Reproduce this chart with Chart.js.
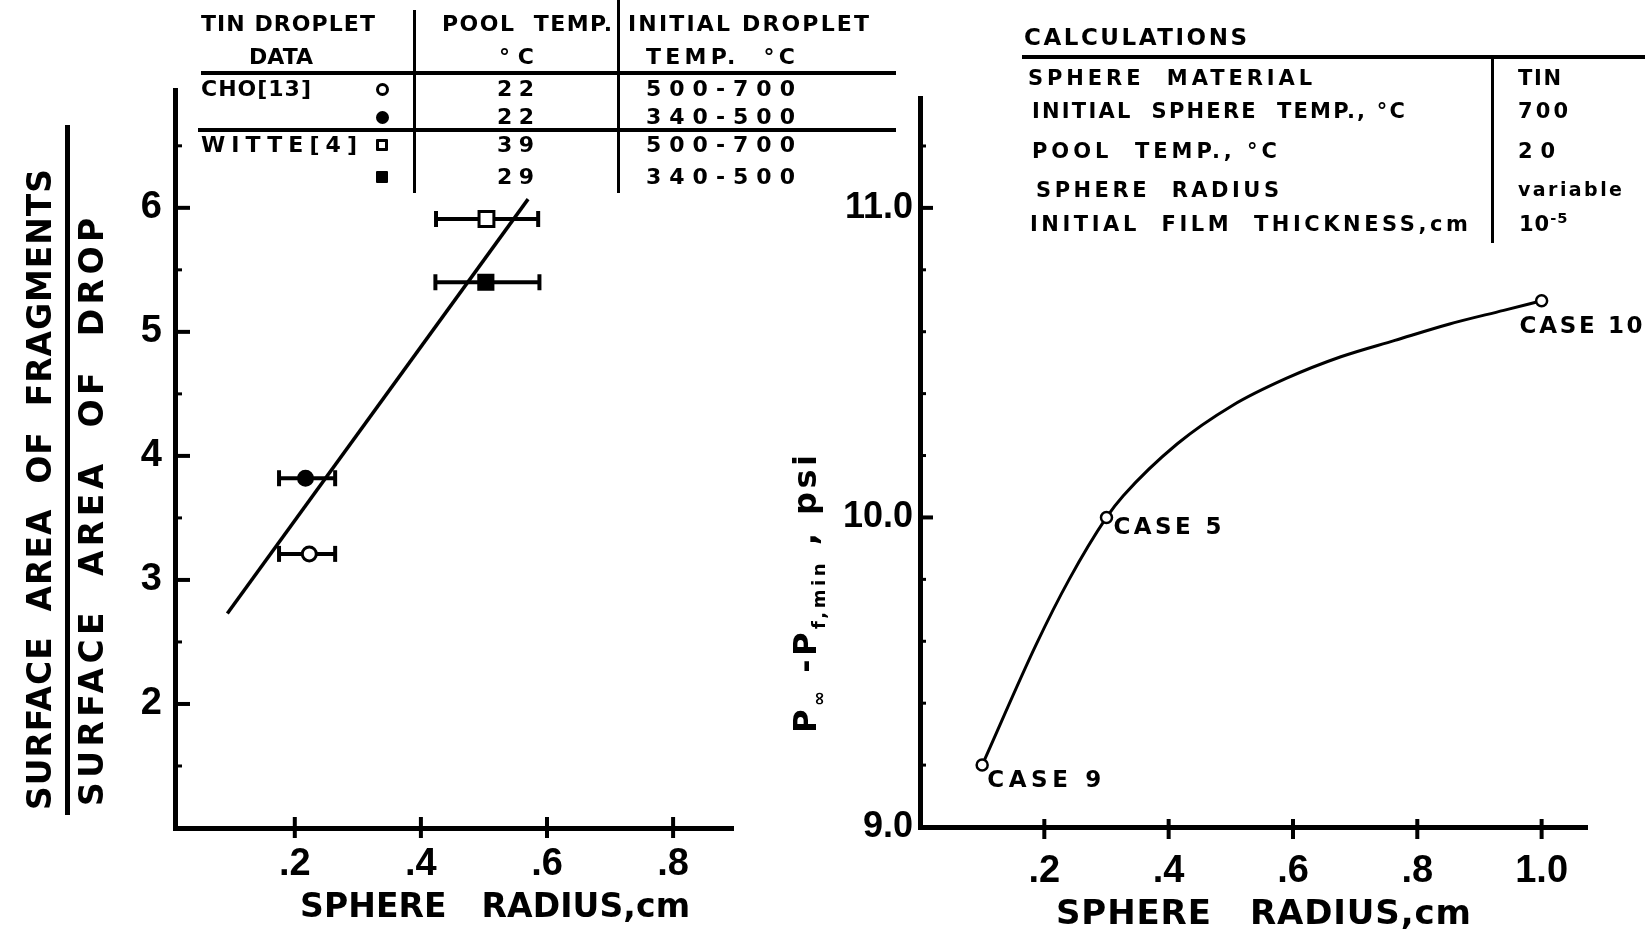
<!DOCTYPE html>
<html>
<head>
<meta charset="utf-8">
<script src="https://cdn.jsdelivr.net/npm/chart.js@4.4.0/dist/chart.umd.min.js"></script>
<style>
html,body{margin:0;padding:0;background:#fff;}
#wrap{position:relative;width:1645px;height:934px;overflow:hidden;background:#fff;
  font-family:'DejaVu Sans','Liberation Sans',Arial,sans-serif;font-weight:bold;color:#000;}
canvas{position:absolute;top:0;}
#cL{left:0;}
#cR{left:780px;}
#overlay{position:absolute;left:0;top:0;width:1645px;height:934px;pointer-events:none;z-index:2;}
.t{position:absolute;white-space:pre;line-height:1;}
.r{position:absolute;background:#000;}
.mk{position:absolute;box-sizing:border-box;border:3px solid #000;}
sup{font-size:0.7em;vertical-align:0.55em;line-height:0;}
</style>
</head>
<body>
<div id="wrap">
  <canvas id="cL" width="790" height="934"></canvas>
  <canvas id="cR" width="865" height="934"></canvas>
  <div id="overlay"></div>
</div>
<script>
// ---------------- DATA ----------------
// Left panel: fragmentation data (tin droplets)
const leftSeries = ['CHO [13] 500-700 °C', 'CHO [13] 340-500 °C', 'WITTE [4] 500-700 °C', 'WITTE [4] 340-500 °C'];
const leftX      = [0.223, 0.217, 0.504, 0.503];
const leftY      = [3.21, 3.82, 5.91, 5.40];
const leftXLow   = [0.175, 0.175, 0.424, 0.423];
const leftXHigh  = [0.264, 0.264, 0.586, 0.588];
const fitX = [0.093, 0.570];
const fitY = [2.73, 6.07];
const leftXTicks  = [0.2, 0.4, 0.6, 0.8];
const leftXLabels = ['.2', '.4', '.6', '.8'];
const leftYTicks  = [2, 3, 4, 5, 6];
const leftYLabels = ['2', '3', '4', '5', '6'];
const leftYMinor  = [1.5, 2.5, 3.5, 4.5, 5.5, 6.5];

// Right panel: calculated cases and the curve drawn through them
const rightCases  = ['CASE 9', 'CASE 5', 'CASE 10'];
const rightX      = [0.1, 0.3, 1.0];
const rightY      = [9.2, 10.0, 10.7];
const curveX = [0.1, 0.187, 0.24, 0.3, 0.327, 0.414, 0.502, 0.589, 0.677, 0.764, 0.852, 0.939, 1.0];
const curveY = [9.2, 9.59, 9.80, 10.0, 10.07, 10.238, 10.361, 10.449, 10.519, 10.572, 10.625, 10.669, 10.7];
const rightXTicks  = [0.2, 0.4, 0.6, 0.8, 1.0];
const rightXLabels = ['.2', '.4', '.6', '.8', '1.0'];
const rightYTicks  = [9, 10, 11];
const rightYLabels = ['9.0', '10.0', '11.0'];
const rightYMinor  = [9.2, 9.4, 9.6, 9.8, 10.2, 10.4, 10.6, 10.8, 11.2];

// ---------------- STYLE / LAYOUT ----------------
const FONT = "'Liberation Sans', Arial, Helvetica, sans-serif";
const TFONT = "'DejaVu Sans', 'Liberation Sans', Arial, sans-serif";
Chart.defaults.font.family = FONT;
Chart.defaults.color = '#000';

const leftMarkerStyles = [
  {pointStyle: 'circle', radius: 7,    fill: '#fff'},
  {pointStyle: 'circle', radius: 7,    fill: '#000'},
  {pointStyle: 'rect',   radius: 10.5, fill: '#fff'},
  {pointStyle: 'rect',   radius: 10,   fill: '#000'}
];

function spacedText(ctx, text, x, y, width, font, rot) {
  ctx.save();
  ctx.font = font; ctx.fillStyle = '#000';
  ctx.textBaseline = 'middle'; ctx.textAlign = 'left';
  const hasLS = ('letterSpacing' in ctx);
  if (hasLS) ctx.letterSpacing = '0px';
  const nat = ctx.measureText(text).width;
  const n = [...text].length;
  if (hasLS && width && n > 1) ctx.letterSpacing = ((width - nat) / (n - 1)).toFixed(2) + 'px';
  ctx.translate(x, y);
  if (rot) ctx.rotate(rot);
  ctx.fillText(text, 0, 0);
  ctx.restore();
}
function seg(ctx, x1, y1, x2, y2, w) {
  ctx.lineWidth = w; ctx.beginPath(); ctx.moveTo(x1, y1); ctx.lineTo(x2, y2); ctx.stroke();
}
const tickFont = {family: FONT, size: 38, weight: 'bold'};

// ---------------- LEFT CHART ----------------
const leftDecor = {
  id: 'leftDecor',
  beforeDatasetsDraw(chart) {
    const {ctx, scales: {x, y}} = chart;
    ctx.save(); ctx.strokeStyle = '#000'; ctx.lineCap = 'butt';
    leftX.forEach((_, i) => {
      const py = y.getPixelForValue(leftY[i]);
      const x1 = x.getPixelForValue(leftXLow[i]);
      const x2 = x.getPixelForValue(leftXHigh[i]);
      seg(ctx, x1, py, x2, py, 4);
      seg(ctx, x1, py - 8, x1, py + 8, 4);
      seg(ctx, x2, py - 8, x2, py + 8, 4);
    });
    ctx.restore();
  },
  afterDraw(chart) {
    const {ctx, chartArea: a, scales: {x, y}} = chart;
    ctx.save(); ctx.strokeStyle = '#000'; ctx.fillStyle = '#000';
    leftYTicks.forEach(v => { const p = y.getPixelForValue(v); seg(ctx, a.left, p, a.left + 15, p, 4); });
    leftYMinor.forEach(v => { const p = y.getPixelForValue(v); seg(ctx, a.left, p, a.left + 7, p, 3); });
    leftXTicks.forEach(v => { const p = x.getPixelForValue(v); seg(ctx, p, a.bottom - 11, p, a.bottom + 10, 4); });
    // axis titles
    spacedText(ctx, 'SURFACE  AREA  OF  FRAGMENTS', 42, 810, 641, 'bold 33px ' + TFONT, -Math.PI / 2);
    ctx.fillRect(65, 125, 5, 690);
    spacedText(ctx, 'SURFACE  AREA  OF  DROP', 94, 806, 588, 'bold 33px ' + TFONT, -Math.PI / 2);
    spacedText(ctx, 'SPHERE   RADIUS,cm', 300, 908, 390, 'bold 33px ' + TFONT, 0);
    ctx.restore();
  }
};

const leftDatasets = leftSeries.map((name, i) => ({
  label: name,
  data: [{x: leftX[i], y: leftY[i]}],
  pointStyle: leftMarkerStyles[i].pointStyle,
  pointRadius: leftMarkerStyles[i].radius,
  pointBorderWidth: 3,
  pointBorderColor: '#000',
  pointBackgroundColor: leftMarkerStyles[i].fill,
  showLine: false,
  order: 1
}));
leftDatasets.push({
  label: 'Fit',
  data: fitX.map((v, i) => ({x: v, y: fitY[i]})),
  showLine: true, borderColor: '#000', borderWidth: 3.5, pointRadius: 0, fill: false, order: 5
});

new Chart(document.getElementById('cL'), {
  type: 'scatter',
  data: {datasets: leftDatasets},
  options: {
    responsive: false, animation: false, devicePixelRatio: 1,
    layout: {autoPadding: false, padding: {left: 0, top: 90, right: 57, bottom: 0}},
    plugins: {legend: {display: false}, tooltip: {enabled: false}},
    scales: {
      x: {
        type: 'linear', position: 'bottom', min: 0.01, max: 0.895,
        afterFit: s => { s.height = 106; },
        afterBuildTicks: s => { s.ticks = leftXTicks.map(v => ({value: v})); },
        grid: {display: false, drawTicks: false},
        border: {display: true, width: 5, color: '#000'},
        ticks: {padding: 14, color: '#000', font: tickFont, autoSkip: false, maxRotation: 0,
                callback: (v, i) => leftXLabels[i]}
      },
      y: {
        type: 'linear', position: 'left', min: 1.0, max: 6.95,
        afterFit: s => { s.width = 175; },
        afterBuildTicks: s => { s.ticks = leftYTicks.map(v => ({value: v})); },
        grid: {display: false, drawTicks: false},
        border: {display: true, width: 5, color: '#000'},
        ticks: {padding: 13, color: '#000', font: tickFont, autoSkip: false,
                callback: (v, i) => leftYLabels[i]}
      }
    }
  },
  plugins: [leftDecor]
});

// ---------------- RIGHT CHART ----------------
const caseOffsets = [[5, 16], [7, 11], [-22, 26]];
const caseWidths = [114, 108, 123];
const rightDecor = {
  id: 'rightDecor',
  afterDatasetsDraw(chart) {
    const {ctx} = chart;
    const meta = chart.getDatasetMeta(1);
    rightCases.forEach((name, i) => {
      const pt = meta.data[i];
      spacedText(ctx, name, pt.x + caseOffsets[i][0], pt.y + caseOffsets[i][1], caseWidths[i], 'bold 23px ' + TFONT, 0);
    });
  },
  afterDraw(chart) {
    const {ctx, chartArea: a, scales: {x, y}} = chart;
    ctx.save(); ctx.strokeStyle = '#000'; ctx.fillStyle = '#000';
    rightYTicks.forEach(v => { const p = y.getPixelForValue(v); seg(ctx, a.left, p, a.left + 13, p, 4); });
    rightYMinor.forEach(v => { const p = y.getPixelForValue(v); seg(ctx, a.left, p, a.left + 6, p, 3); });
    rightXTicks.forEach(v => { const p = x.getPixelForValue(v); seg(ctx, p, a.bottom - 8, p, a.bottom + 12, 4); });
    spacedText(ctx, 'SPHERE   RADIUS,cm', 276, 915, 415, 'bold 34px ' + TFONT, 0);
    // y title: P∞ - Pf,min , psi  (rotated)
    const pieces = [['P', 0], ['\u221E', 1], [' -', 0], ['P', 0], ['f,min', 1], [' , ', 0], ['psi', 0]];
    const mainF = 'bold 32px ' + TFONT, subF = 'bold 18px ' + TFONT;
    ctx.translate(28, 733);
    ctx.rotate(-Math.PI / 2);
    ctx.textBaseline = 'middle'; ctx.textAlign = 'left';
    const hasLS = ('letterSpacing' in ctx);
    if (hasLS) ctx.letterSpacing = '0px';
    let nat = 0, nch = 0;
    pieces.forEach(([t, s]) => { ctx.font = s ? subF : mainF; nat += ctx.measureText(t).width; nch += [...t].length; });
    const ls = hasLS ? (278 - nat) / (nch - 1) : 0;
    let cx = 0;
    pieces.forEach(([t, s]) => {
      ctx.font = s ? subF : mainF;
      if (hasLS) ctx.letterSpacing = '0px';
      const w = ctx.measureText(t).width;
      if (hasLS) ctx.letterSpacing = ls.toFixed(2) + 'px';
      ctx.fillText(t, cx, s ? 12 : 0);
      cx += w + ls * [...t].length;
    });
    ctx.restore();
  }
};

new Chart(document.getElementById('cR'), {
  type: 'scatter',
  data: {datasets: [
    {
      label: 'Calculated curve',
      data: curveX.map((v, i) => ({x: v, y: curveY[i]})),
      showLine: true, cubicInterpolationMode: 'monotone',
      borderColor: '#000', borderWidth: 3, fill: false, pointRadius: 0, order: 2
    },
    {
      label: 'Cases',
      data: rightX.map((v, i) => ({x: v, y: rightY[i]})),
      showLine: false,
      pointStyle: 'circle', pointRadius: 5.5, pointBorderWidth: 2.5,
      pointBorderColor: '#000', pointBackgroundColor: '#fff', order: 1
    }
  ]},
  options: {
    responsive: false, animation: false, devicePixelRatio: 1,
    layout: {autoPadding: false, padding: {left: 0, top: 98, right: 58, bottom: 0}},
    plugins: {legend: {display: false}, tooltip: {enabled: false}},
    scales: {
      x: {
        type: 'linear', position: 'bottom', min: 0, max: 1.073,
        afterFit: s => { s.height = 107; },
        afterBuildTicks: s => { s.ticks = rightXTicks.map(v => ({value: v})); },
        grid: {display: false, drawTicks: false},
        border: {display: true, width: 5, color: '#000'},
        ticks: {padding: 22, color: '#000', font: tickFont, autoSkip: false, maxRotation: 0,
                callback: (v, i) => rightXLabels[i]}
      },
      y: {
        type: 'linear', position: 'left', min: 9.0, max: 11.355,
        afterFit: s => { s.width = 140; },
        afterBuildTicks: s => { s.ticks = rightYTicks.map(v => ({value: v})); },
        grid: {display: false, drawTicks: false},
        border: {display: true, width: 5, color: '#000'},
        ticks: {padding: 7, color: '#000', font: {family: FONT, size: 36, weight: 'bold'}, autoSkip: false,
                callback: (v, i) => rightYLabels[i]}
      }
    }
  },
  plugins: [rightDecor]
});

// ---------------- TABLES (HTML text) ----------------
// [text, left, centerY, targetWidth, fontSize]
const tableTexts = [
  ['TIN DROPLET', 201, 24, 174, 22],
  ['DATA', 249, 57, 64, 22],
  ['POOL  TEMP.', 442, 24, 170, 22],
  ['INITIAL DROPLET', 628, 24, 241, 22],
  ['°C', 499, 57, 35, 22],
  ['TEMP.  °C', 646, 57, 149, 22],
  ['CHO[13]', 201, 89, 110, 22],
  ['WITTE[4]', 201, 145, 156, 22],
  ['22', 497, 89, 37, 22],
  ['22', 497, 117, 37, 22],
  ['39', 497, 145, 37, 22],
  ['29', 497, 177, 37, 22],
  ['500-700', 646, 89, 149, 22],
  ['340-500', 646, 117, 149, 22],
  ['500-700', 646, 145, 149, 22],
  ['340-500', 646, 177, 149, 22],
  ['CALCULATIONS', 1024, 37, 223, 23],
  ['SPHERE  MATERIAL', 1028, 78, 284, 21],
  ['INITIAL  SPHERE  TEMP., °C', 1032, 111, 373, 21],
  ['POOL  TEMP., °C', 1032, 151, 245, 21],
  ['SPHERE  RADIUS', 1036, 190, 243, 21],
  ['INITIAL  FILM  THICKNESS,cm', 1030, 224, 438, 21],
  ['TIN', 1518, 78, 43, 21],
  ['700', 1518, 111, 50, 21],
  ['20', 1518, 151, 37, 21],
  ['variable', 1518, 189, 104, 19]
];
// rules: [left, top, width, height]
const tableRules = [
  [201, 71, 695, 4], [198, 128, 698, 4], [413, 10, 3, 183], [617, 0, 3, 193],
  [1022, 55, 623, 4], [1491, 57, 3, 186]
];
// table markers: [centerX, centerY, shape, filled]
const tableMarkers = [[382, 89, 'c', 0], [382, 117, 'c', 1], [382, 145, 's', 0], [382, 177, 's', 1]];

const ov = document.getElementById('overlay');
tableTexts.forEach(([txt, x, cy, w, fs]) => {
  const d = document.createElement('div');
  d.className = 't';
  d.textContent = txt;
  d.style.left = x + 'px';
  d.style.top = (cy - 0.5 * fs) + 'px';
  d.style.fontSize = fs + 'px';
  ov.appendChild(d);
  const nat = d.getBoundingClientRect().width;
  const n = [...txt].length;
  if (n > 1) d.style.letterSpacing = Math.max(-3, (w - nat) / (n - 1)).toFixed(2) + 'px';
});
{
  const d = document.createElement('div');
  d.className = 't';
  d.innerHTML = '10<sup>-5</sup>';
  d.style.left = '1519px'; d.style.top = (224 - 0.5 * 21) + 'px'; d.style.fontSize = '21px';
  d.style.letterSpacing = '1px';
  ov.appendChild(d);
}
tableRules.forEach(([x, y, w, h]) => {
  const d = document.createElement('div');
  d.className = 'r';
  Object.assign(d.style, {left: x + 'px', top: y + 'px', width: w + 'px', height: h + 'px'});
  ov.appendChild(d);
});
tableMarkers.forEach(([cx, cy, shape, filled]) => {
  const d = document.createElement('div');
  d.className = 'mk';
  const s = shape === 'c' ? 13 : 12;
  Object.assign(d.style, {left: (cx - s / 2) + 'px', top: (cy - s / 2) + 'px', width: s + 'px', height: s + 'px',
    borderRadius: shape === 'c' ? '50%' : '1px', background: filled ? '#000' : '#fff'});
  ov.appendChild(d);
});
</script>
</body>
</html>
